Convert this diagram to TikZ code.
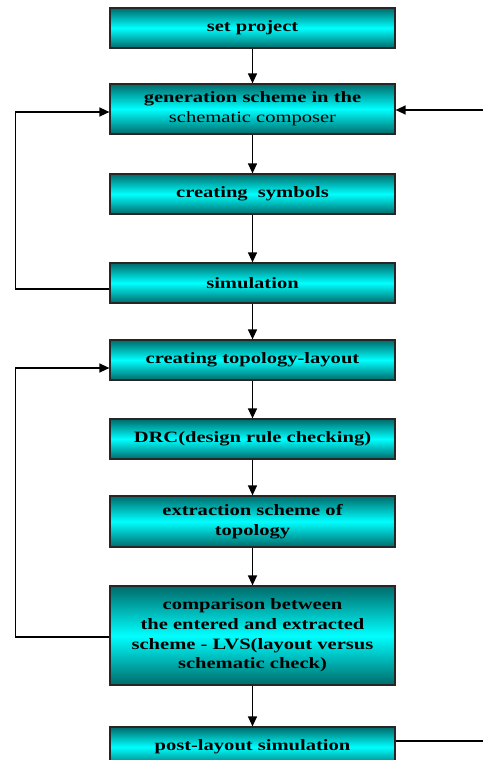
\documentclass[tikz,border=0pt]{standalone}
\usepackage{fontspec}
\setmainfont{Liberation Serif}[FakeStretch=1.3]
\usetikzlibrary{arrows.meta}
\definecolor{deep}{HTML}{006A6A}
\definecolor{glow}{HTML}{00FFFF}

\begin{document}
\begin{tikzpicture}[x=1pt,y=-1pt,
  box/.style={draw=black!85,line width=1.2pt,minimum width=285pt,inner sep=0pt,align=center,
    top color=deep,bottom color=deep,middle color=glow,
    font=\fontsize{15.8}{19.7}\selectfont\bfseries},
  flow/.style={line width=1.3pt,-{Triangle[length=10pt,width=9pt]}},
  wire/.style={line width=1.3pt}]
\clip (0,0) rectangle (483,760);
\node[box,minimum height=40pt] (set) at (252.5,28) {set project};
\node[box,minimum height=50pt] (gen) at (252.5,109) {generation scheme in the\\{\mdseries schematic composer}};
\node[box,minimum height=40pt] (sym) at (252.5,194) {creating~~symbols};
\node[box,minimum height=40pt] (sim) at (252.5,283) {simulation};
\node[box,minimum height=40pt] (topo) at (252.5,360) {creating topology-layout};
\node[box,minimum height=40pt] (drc) at (252.5,439) {DRC(design rule checking)};
\node[box,minimum height=51pt] (ext) at (252.5,521.5) {extraction scheme of\\topology};
\node[box,minimum height=99pt] (lvs) at (252.5,635.5) {comparison between\\the entered and extracted\\scheme - LVS(layout versus\\schematic check)};
\node[box,minimum height=40pt] (post) at (252.5,747) {post-layout simulation};
\coordinate (rin) at (483,110);
\coordinate (rout) at (483,741);
% main flow
\draw[flow] (set) -- (gen);
\draw[flow] (gen) -- (sym);
\draw[flow] (sym) -- (sim);
\draw[flow] (sim) -- (topo);
\draw[flow] (topo) -- (drc);
\draw[flow] (drc) -- (ext);
\draw[flow] (ext) -- (lvs);
\draw[flow] (lvs) -- (post);
% loops back
\draw[flow] ([yshift=-6pt]sim.west) -- ++(-94,0) |- ([yshift=-3pt]gen.west);
\draw[flow] ([yshift=-1.5pt]lvs.west) -- ++(-94,0) |- ([yshift=-8pt]topo.west);
\draw[flow] (rin) -- (rin -| gen.east);
\draw[wire] (post.east |- rout) -- (rout);
\end{tikzpicture}
\end{document}
